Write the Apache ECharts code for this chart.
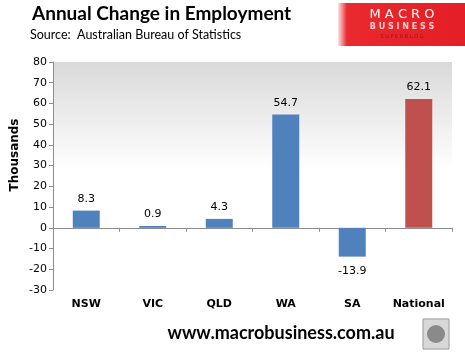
<!DOCTYPE html>
<html><head><meta charset="utf-8">
<script src="https://cdn.jsdelivr.net/npm/echarts@6/dist/echarts.min.js"></script>
<style>html,body{margin:0;padding:0;background:#fff}#c{width:465px;height:356px}</style>
</head><body><div id="c"></div>
<script>
const categories = ['NSW','VIC','QLD','WA','SA','National'];
const changes = [8.3, 0.9, 4.3, 54.7, -13.9, 62.1];
const yTicks = {min: -30, max: 80, interval: 10};
const BLUE = '#4F81BD', RED = '#C0504D';

const chart = echarts.init(document.getElementById('c'), null, {renderer:'canvas'});
chart.setOption({
  animation: false,
  backgroundColor: '#fff',
  grid: {left: 53, right: 13, top: 62, bottom: 66, show: true, borderWidth: 0,
    backgroundColor: new echarts.graphic.LinearGradient(0,0,0,1,[
      {offset:0, color:'#d9d9d9'},{offset:0.47, color:'#ffffff'},{offset:1, color:'#ffffff'}])},
  xAxis: [{
    type: 'category', data: categories,
    axisLine: {onZero: true, lineStyle: {color: '#8c8c8c', width: 1}},
    axisTick: {show: true, length: 4, interval: 0, lineStyle: {color: '#8c8c8c'}},
    axisLabel: {show: false}
  }, {
    type: 'category', data: categories, position: 'bottom',
    axisLine: {show: false, onZero: false}, axisTick: {show: false},
    axisLabel: {show: true, interval: 0, margin: 9, color: '#000', fontWeight: 'bold', fontFamily: 'DejaVu Sans', fontSize: 11}
  }],
  yAxis: {
    type: 'value', min: yTicks.min, max: yTicks.max, interval: yTicks.interval,
    splitLine: {show: false},
    axisLine: {show: true, lineStyle: {color: '#8c8c8c'}},
    axisTick: {show: true, length: 4, lineStyle: {color: '#8c8c8c'}},
    axisLabel: {color: '#000', fontFamily: 'DejaVu Sans', fontSize: 11, margin: 6}
  },
  series: [{
    type: 'bar', xAxisIndex: 0, barWidth: 27,
    data: changes.map((v, i) => ({
      value: v,
      itemStyle: {color: i === categories.length - 1 ? RED : BLUE},
      label: {position: v < 0 ? 'bottom' : 'top', distance: v < 0 ? 9 : 6}
    })),
    label: {show: true, color: '#000', fontFamily: 'DejaVu Sans', fontSize: 11,
      formatter: p => p.value.toFixed(1)}
  }],
  graphic: [
    {type: 'text', left: 32, top: 4, style: {text: 'Annual Change in Employment', fontFamily: 'Lato', fontWeight: 'bold', fontSize: 19, fill: '#000'}},
    {type: 'text', left: 30, top: 28, style: {text: 'Source:  Australian Bureau of Statistics', fontFamily: 'Lato', fontSize: 12.5, fill: '#000'}},
    {type: 'text', x: 15, y: 155, rotation: Math.PI/2, style: {text: 'Thousands', fontFamily: 'DejaVu Sans', fontWeight: 'bold', fontSize: 12, fill: '#000', align: 'center', verticalAlign: 'middle'}},
    {type: 'text', x: 281, y: 333, style: {text: 'www.macrobusiness.com.au', fontFamily: 'Lato', fontWeight: 'bold', fontSize: 18, fill: '#000', align: 'center', verticalAlign: 'middle'}},
    {type: 'rect', shape: {x: 338, y: 3, width: 127, height: 43}, style: {fill: new echarts.graphic.LinearGradient(0,0,1,0,[
      {offset:0, color:'#fbe3e3'},{offset:0.07, color:'#e92a2f'},{offset:1, color:'#e41e26'}])}},
    {type: 'text', x: 402, y: 15, style: {text: 'M A C R O', fontFamily: 'DejaVu Sans', fontSize: 13, fill: '#fff', align: 'center', verticalAlign: 'middle'}},
    {type: 'text', x: 402, y: 27, style: {text: 'B U S I N E S S', fontFamily: 'DejaVu Sans', fontWeight: 'bold', fontSize: 8, fill: '#fcd0d0', align: 'center', verticalAlign: 'middle'}},
    {type: 'text', x: 402, y: 37, style: {text: 'S U P E R B L O G', fontFamily: 'DejaVu Sans', fontSize: 5, fill: '#a01016', align: 'center', verticalAlign: 'middle'}},
    {type: 'rect', shape: {x: 423, y: 319, width: 26, height: 30}, style: {fill: '#d8d8d8', stroke: '#9a9a9a', lineWidth: 1}},
    {type: 'circle', shape: {cx: 436, cy: 334, r: 9}, style: {fill: '#8a8a8a'}}
  ]
});
</script></body></html>
